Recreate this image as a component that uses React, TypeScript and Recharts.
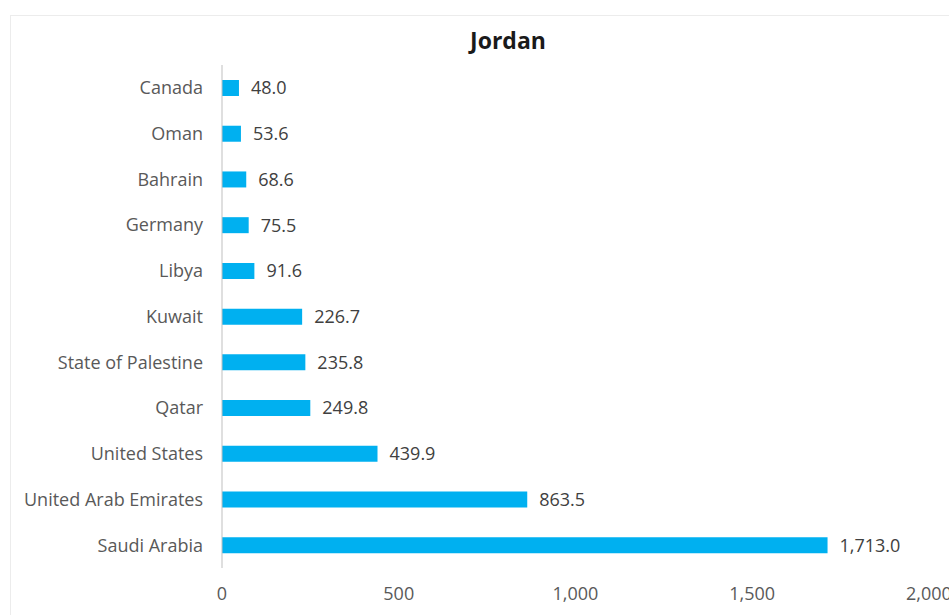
import React from "react";
import { BarChart, Bar, XAxis, YAxis, LabelList } from "recharts";

const countries = [
  "Canada",
  "Oman",
  "Bahrain",
  "Germany",
  "Libya",
  "Kuwait",
  "State of Palestine",
  "Qatar",
  "United States",
  "United Arab Emirates",
  "Saudi Arabia",
];
const values = [48.0, 53.6, 68.6, 75.5, 91.6, 226.7, 235.8, 249.8, 439.9, 863.5, 1713.0];
const xTicks = [0, 500, 1000, 1500, 2000];
const title = "Jordan";

const data = countries.map((name, i) => ({ name, value: values[i] }));

const FONT = "'Open Sans', 'Noto Sans', sans-serif";

const fmtTick = (v: number) => v.toLocaleString("en-US");
const fmtLabel = (v: any) =>
  Number(v).toLocaleString("en-US", { minimumFractionDigits: 1, maximumFractionDigits: 1 });

export default function App() {
  return (
    <div
      style={{
        position: "fixed",
        left: 0,
        top: 0,
        width: 949,
        height: 615,
        overflow: "hidden",
        background: "#fff",
        fontFamily: FONT,
      }}
    >
      <div
        style={{
          position: "absolute",
          left: 10,
          top: 15,
          width: 1000,
          height: 700,
          border: "1px solid #ececec",
          boxSizing: "border-box",
        }}
      />
      <div
        style={{
          position: "absolute",
          left: 0,
          top: 24,
          width: 1016,
          textAlign: "center",
          fontSize: 23,
          fontWeight: 700,
          color: "#1a1a1a",
          lineHeight: "32px",
        }}
      >
        {title}
      </div>
      <div style={{ position: "absolute", left: 0, top: 0 }}>
        <BarChart
          width={980}
          height={615}
          data={data}
          layout="vertical"
          margin={{ top: 65, right: 51, bottom: 7, left: 0 }}
          barCategoryGap={0}
        >
          <XAxis
            type="number"
            domain={[0, 2000]}
            ticks={xTicks}
            interval={0}
            tickFormatter={fmtTick}
            axisLine={false}
            tickLine={false}
            tickSize={0}
            tickMargin={19}
            height={40}
            tick={{ fill: "#595959", fontSize: 18, fontFamily: FONT }}
          />
          <YAxis
            type="category"
            dataKey="name"
            width={222}
            axisLine={{ stroke: "#bfbfbf" }}
            tickLine={false}
            tickSize={0}
            tickMargin={19}
            interval={0}
            tick={{ fill: "#595959", fontSize: 18, fontFamily: FONT }}
          />
          <Bar dataKey="value" fill="#00b0f0" barSize={16} isAnimationActive={false}>
            <LabelList
              dataKey="value"
              position="right"
              offset={12}
              formatter={fmtLabel}
              style={{ fill: "#404040", fontSize: 18, fontFamily: FONT }}
            />
          </Bar>
        </BarChart>
      </div>
    </div>
  );
}
